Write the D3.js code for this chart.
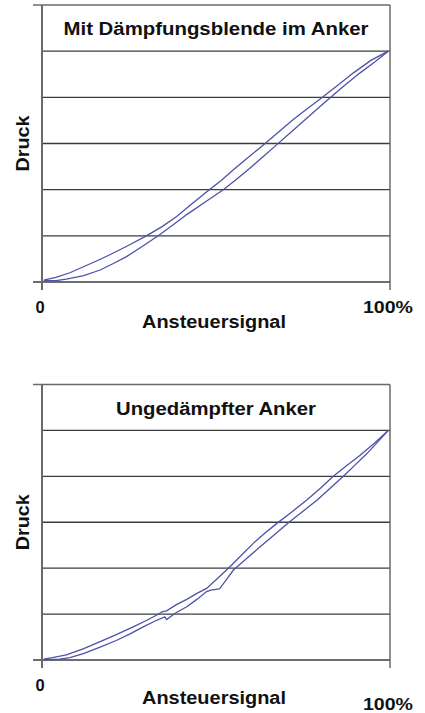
<!DOCTYPE html>
<html>
<head>
<meta charset="utf-8">
<script src="https://cdn.jsdelivr.net/npm/d3@7"></script>
<style>
  body { margin: 0; background: #fff; }
  text { font-family: "Liberation Sans", Arial, sans-serif; font-weight: bold; fill: #111; }
</style>
</head>
<body>
<div id="vis"></div>
<script>
// Druck in Gitterteilungen (0..5), Ansteuersignal in %
var topUpX   = [0.5, 4, 7, 12, 16.7, 20.5, 24.3, 29, 33.4, 37.5, 41.6, 47, 52.1, 56, 59.8, 63.6, 67.4, 71.2, 75.1, 79, 82.8, 87, 91.4, 95.5, 99.5];
var topUpY   = [0.03, 0.03, 0.06, 0.14, 0.26, 0.4, 0.55, 0.78, 1.0, 1.23, 1.46, 1.74, 2.0, 2.23, 2.47, 2.72, 2.97, 3.22, 3.48, 3.74, 3.99, 4.26, 4.53, 4.76, 5.0];
var topDownX = [0.5, 4, 8, 11.9, 15.5, 19.5, 24.5, 30, 34.5, 38.7, 43, 47.8, 51.5, 55, 59.3, 63.6, 68, 72.2, 76.3, 80.4, 85, 89.5, 94.5, 99.5];
var topDownY = [0.04, 0.1, 0.2, 0.33, 0.45, 0.59, 0.78, 1.0, 1.2, 1.42, 1.69, 1.98, 2.2, 2.43, 2.7, 2.97, 3.25, 3.52, 3.76, 3.99, 4.26, 4.53, 4.8, 5.0];

var botUpX   = [0.5, 5, 8, 11.9, 16.7, 21.5, 25.3, 29.1, 32.5, 35.3, 35.8, 38.5, 41.6, 44.5, 47.3, 48.5, 51, 53, 55, 58.8, 62.6, 66.7, 70.8, 75, 79, 82.8, 86.6, 90, 93.3, 96.5, 99.5];
var botUpY   = [0.0, 0.02, 0.05, 0.14, 0.28, 0.43, 0.57, 0.72, 0.85, 0.94, 0.88, 1.03, 1.16, 1.32, 1.49, 1.52, 1.55, 1.75, 1.96, 2.21, 2.46, 2.72, 2.99, 3.24, 3.48, 3.74, 4.0, 4.25, 4.49, 4.75, 5.0];
var botDownX = [0.5, 3, 7, 12, 16.7, 21.5, 26.2, 30, 33, 34.5, 35.8, 38.5, 41.6, 44.5, 47.3, 50.5, 54, 57.3, 60.7, 64, 67.4, 71.7, 76, 80, 83.7, 87.5, 91.4, 95.5, 99.5];
var botDownY = [0.02, 0.05, 0.11, 0.25, 0.4, 0.56, 0.72, 0.86, 0.98, 1.05, 1.07, 1.2, 1.32, 1.45, 1.56, 1.78, 2.03, 2.28, 2.54, 2.76, 2.97, 3.22, 3.48, 3.74, 4.0, 4.23, 4.46, 4.72, 5.0];

var gridVals = [0, 1, 2, 3, 4, 5];

var charts = [
  {title: "Mit Dämpfungsblende im Anker", titleLen: 305, top: 5, bottom: 282,
   up: {x: topUpX, y: topUpY}, down: {x: topDownX, y: topDownY},
   zeroY: 313, nameY: 328, pctY: 313},
  {title: "Ungedämpfter Anker", titleLen: 200, top: 384.5, bottom: 660,
   up: {x: botUpX, y: botUpY}, down: {x: botDownX, y: botDownY},
   zeroY: 691, nameY: 704, pctY: 710}
];

var w = 425, h = 713;
var left = 42, right = 390;

var svg = d3.select("#vis").append("svg")
    .attr("width", w)
    .attr("height", h);

charts.forEach(function(c) {
  var x = d3.scaleLinear().domain([0, 100]).range([left, right]);
  var y = d3.scaleLinear().domain([0, 6]).range([c.bottom, c.top]);
  var g = svg.append("g");

  // gridlines
  g.selectAll("line.grid")
    .data(gridVals)
    .enter().append("line")
    .attr("class", "grid")
    .attr("x1", function(d) { return d == 0 ? left - 9 : left; })
    .attr("x2", right)
    .attr("y1", function(d) { return y(d); })
    .attr("y2", function(d) { return y(d); })
    .style("stroke", "#3c3c3c")
    .style("stroke-width", 1.4);

  // frame top + right
  g.append("line")
    .attr("x1", left - 9).attr("x2", right)
    .attr("y1", y(6)).attr("y2", y(6))
    .style("stroke", "#6a6a6a").style("stroke-width", 1.6);
  g.append("line")
    .attr("x1", right).attr("x2", right)
    .attr("y1", y(6)).attr("y2", c.bottom + 8)
    .style("stroke", "#6a6a6a").style("stroke-width", 1.5);
  // y axis
  g.append("line")
    .attr("x1", left).attr("x2", left)
    .attr("y1", y(6)).attr("y2", c.bottom + 8)
    .style("stroke", "#6a6a6a").style("stroke-width", 2);

  var line = d3.line()
    .x(function(d) { return x(d[0]); })
    .y(function(d) { return y(d[1]); });

  [c.up, c.down].forEach(function(s) {
    g.append("path")
      .datum(d3.zip(s.x, s.y))
      .attr("d", line)
      .style("fill", "none")
      .style("stroke", "#5050a8")
      .style("stroke-width", 1.3);
  });

  g.append("text")
    .attr("x", 216).attr("y", c.top + 30)
    .attr("text-anchor", "middle")
    .attr("textLength", c.titleLen).attr("lengthAdjust", "spacingAndGlyphs")
    .style("font-size", "17.5px")
    .text(c.title);

  g.append("text")
    .attr("transform", "translate(29," + ((c.top + c.bottom) / 2) + ") rotate(-90)")
    .attr("text-anchor", "middle")
    .attr("textLength", 56).attr("lengthAdjust", "spacingAndGlyphs")
    .style("font-size", "17.5px")
    .text("Druck");

  g.append("text")
    .attr("x", 40).attr("y", c.zeroY)
    .attr("text-anchor", "middle")
    .style("font-size", "16.5px")
    .text("0");

  g.append("text")
    .attr("x", 214).attr("y", c.nameY)
    .attr("text-anchor", "middle")
    .attr("textLength", 144).attr("lengthAdjust", "spacingAndGlyphs")
    .style("font-size", "17.5px")
    .text("Ansteuersignal");

  g.append("text")
    .attr("x", 388).attr("y", c.pctY)
    .attr("text-anchor", "middle")
    .attr("textLength", 50).attr("lengthAdjust", "spacingAndGlyphs")
    .style("font-size", "16.5px")
    .text("100%");
});
</script>
</body>
</html>
